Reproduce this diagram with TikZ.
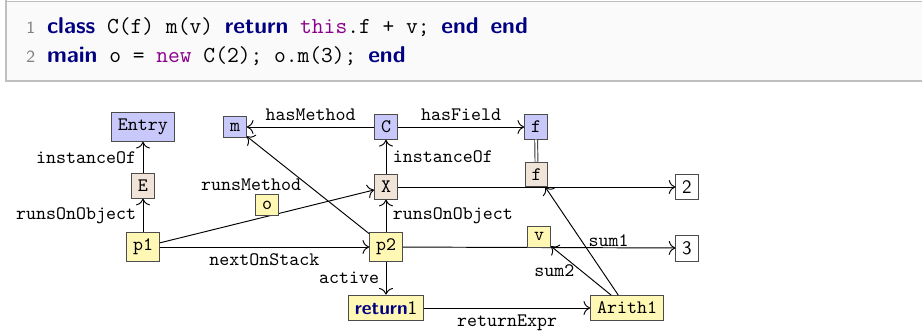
\documentclass[tikz,border=0pt]{standalone}
\usepackage{amsmath}
\usepackage{tikz}
\usetikzlibrary{arrows.meta}

\definecolor{clsblue}{RGB}{200,200,250}
\definecolor{objtan}{RGB}{240,228,216}
\definecolor{stkyellow}{RGB}{255,248,180}
\definecolor{kwnavy}{RGB}{0,0,130}
\definecolor{kwpurple}{RGB}{140,0,140}
\newcommand{\kw}[1]{{\sffamily\bfseries\color{kwnavy}#1}}
\newcommand{\lno}[1]{{\sffamily\small\color{black!50}#1}}

\begin{document}
\begin{tikzpicture}[x=0.525pt,y=-0.525pt,>={To[scale=1.3]},line width=0.5pt,
    box/.style={draw=black!70,font=\ttfamily},
    cls/.style={box,fill=clsblue},
    obj/.style={box,fill=objtan},
    stk/.style={box,fill=stkyellow},
    val/.style={draw=black!70,fill=white,font=\sffamily},
    lbl/.style={font=\ttfamily},
    code/.style={anchor=base west,inner sep=0pt,font=\fontsize{12}{14}\selectfont\ttfamily}]
    \useasboundingbox (0,0) rectangle (922,332);
    % listing
    \fill[black!2] (6,1) rectangle (922,81);
    \draw[black!25,line width=0.4pt] (6,1) -- (922,1);
    \draw[black!25,line width=1.5pt] (6,0) -- (6,82);
    \draw[black!25,line width=1.5pt] (6,81) -- (922,81);
    \node[code] (line1) at (26,33) {\lno{1} \kw{class} C(f) m(v) \kw{return} {\color{kwpurple}this}.f + v; \kw{end} \kw{end}};
    \node[code] (line2) at (26,62) {\lno{2} \kw{main} o = {\color{kwpurple}new} C(2); o.m(3); \kw{end}};
    % heap and stack
    \node[cls] (Entry) at (143,127) {Entry};
    \node[cls] (m) at (235,127) {m};
    \node[cls] (C) at (386,127) {C};
    \node[cls] (fC) at (536,127) {f};
    \node[obj] (E) at (143,186) {E};
    \node[obj] (X) at (386,187) {X};
    \node[stk] (p1) at (143,247) {p1};
    \node[stk] (p2) at (386,247) {p2};
    \node[stk] (ret) at (386,308) {\kw{return}\textsf{1}};
    \node[stk] (Arith) at (627,308) {Arith1};
    \node[val] (two) at (687,187) {2};
    \node[val] (three) at (687,248) {3};
    \draw[->] (E) -- node[lbl,left] {instanceOf} (Entry);
    \draw[->] (p1) -- node[lbl,left] {runsOnObject} (E);
    \draw[->] (X) -- node[lbl,right] {instanceOf} (C);
    \draw[->] (p2) -- node[lbl,right] {runsOnObject} (X);
    \draw[->] (C) -- node[lbl,above] {hasMethod} (m);
    \draw[->] (C) -- node[lbl,above] {hasField} (fC);
    \draw[->] (p1) -- node[stk,above] (o) {o} (X);
    \draw[->] (p1) -- node[lbl,below] {nextOnStack} (p2);
    \draw[->] (p2) -- node[lbl,left] {runsMethod} (m);
    \draw[->] (X) -- node[obj,above] (fX) {f} (two);
    \draw[->] (p2) -- node[stk,above] (v) {v} (three);
    \draw[->] (p2) -- node[lbl,left] {active} (ret);
    \draw[->] (ret) -- node[lbl,below] {returnExpr} (Arith);
    \draw[->] (Arith) -- node[lbl,right] {sum1} (fX);
    \draw[->] (Arith) -- node[lbl,left] {sum2} (v);
    \draw[double,double distance=1pt,black!80] (fC) -- (fX);
\end{tikzpicture}
\end{document}
